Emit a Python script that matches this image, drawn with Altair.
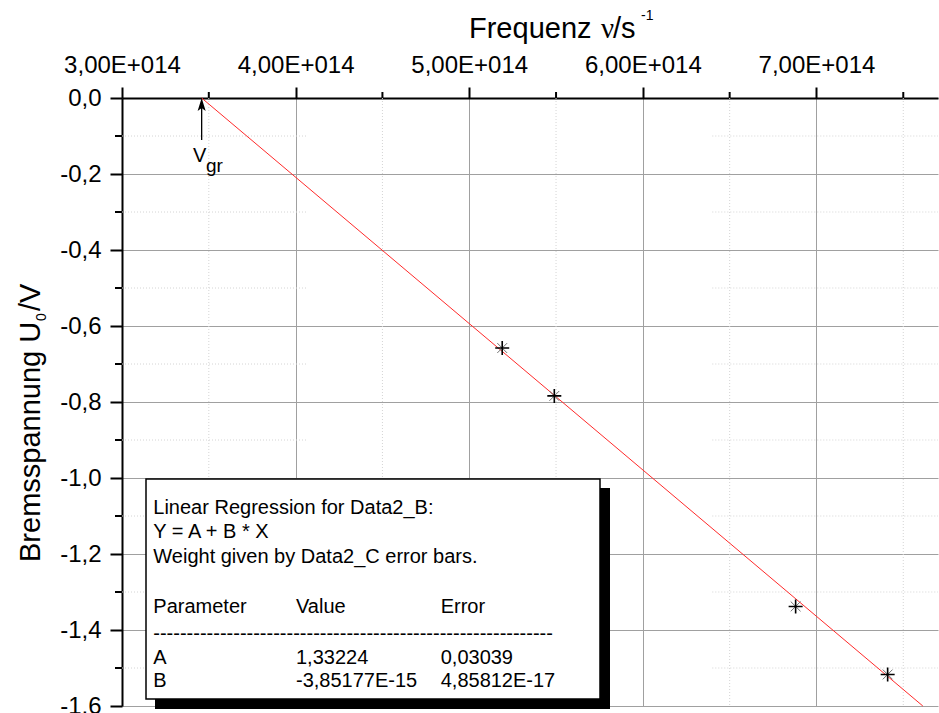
import altair as alt
import pandas as pd

# ---------------- data ----------------
freq = [5.19e14, 5.49e14, 6.88e14, 7.41e14]          # Frequenz nu / s^-1
volt = [-0.658, -0.784, -1.338, -1.517]              # Bremsspannung U0 / V
fit_x = [3.4588e14, 7.6127e14]                       # regression line end points
fit_y = [0.0, -1.6]
x_major = [3e14, 4e14, 5e14, 6e14, 7e14]
x_minor = [3.5e14, 4.5e14, 5.5e14, 6.5e14, 7.5e14]
y_major = [0.0, -0.2, -0.4, -0.6, -0.8, -1.0, -1.2, -1.4, -1.6]
y_minor = [-0.1, -0.3, -0.5, -0.7, -0.9, -1.1, -1.3, -1.5]
hgrid_from = [3.0e14, 6.40e14]
hgrid_to = [4.07e14, 7.7e14]
x_domain = [3e14, 7.7e14]
y_domain = [-1.6, 0.0]
reg_rows = [["Parameter", "Value", "Error"], ["A", "1,33224", "0,03039"], ["B", "-3,85177E-15", "4,85812E-17"]]

W, H = 816, 608
FONT = "Liberation Sans"

xscale = alt.Scale(domain=x_domain, nice=False, zero=False)
yscale = alt.Scale(domain=y_domain, nice=False, zero=False)
xaxis = alt.Axis(orient="top", values=x_major, tickSize=11, tickWidth=2, tickColor="black",
                 domainColor="black", domainWidth=2, labelFont=FONT, labelFontSize=24,
                 labelColor="black", labelPadding=15, labelBaseline="alphabetic",
                 labelExpr="replace(format(datum.value/1e14, '.2f'), '.', ',') + 'E+014'",
                 title=None, grid=True, gridColor="#a0a0a0", gridWidth=1,
                 labelFlush=False, labelOverlap=False, labelBound=False)
yaxis = alt.Axis(orient="left", values=y_major, tickSize=12, tickWidth=2, tickColor="black",
                 domainColor="black", domainWidth=2, labelFont=FONT, labelFontSize=24,
                 labelColor="black", labelPadding=9, labelAlign="right", labelBaseline="middle",
                 labelExpr="(datum.value < -0.001 ? '-' : '') + replace(format(abs(datum.value), '.1f'), '.', ',')",
                 title=None, grid=True, gridColor="#a0a0a0", gridWidth=1,
                 labelFlush=False, labelOverlap=False, labelBound=False)


def X(f="x"):
    return alt.X(f, type="quantitative", scale=xscale, axis=xaxis)


def Y(f="y"):
    return alt.Y(f, type="quantitative", scale=yscale, axis=yaxis)


one = pd.DataFrame({"k": [0]})

pts = pd.DataFrame({"x": freq, "y": volt})
fit = pd.DataFrame({"x": fit_x, "y": fit_y})
xmin_df = pd.DataFrame({"x": x_minor})
ymin_df = pd.DataFrame({"y": y_minor})
hseg = pd.DataFrame([{"y": yv, "x": a, "x2": b} for yv in y_minor for a, b in zip(hgrid_from, hgrid_to)])

# minor grid (dotted)
vgrid_minor = alt.Chart(xmin_df).mark_rule(color="#d4d4d4", strokeWidth=1, strokeDash=[1, 2]).encode(x=X())
hgrid_minor = alt.Chart(hseg).mark_rule(color="#d4d4d4", strokeWidth=1, strokeDash=[1, 2]).encode(
    x=X(), x2="x2", y=Y())

# minor ticks
xticks_minor = alt.Chart(xmin_df).mark_rule(color="black", strokeWidth=2).encode(
    x=X(), y=alt.value(-6), y2=alt.value(0))
yticks_minor = alt.Chart(ymin_df).mark_rule(color="black", strokeWidth=2).encode(
    y=Y(), x=alt.value(-7), x2=alt.value(0))

# regression line
line = alt.Chart(fit).mark_line(color="#ff2a2a", strokeWidth=1).encode(x=X(), y=Y())

# data points (asterisk)
star_plus = alt.Chart(pts).mark_point(shape="M-1,0L1,0M0,-1L0,1", size=196, filled=False,
                                      color="black", strokeWidth=1.6, opacity=1).encode(x=X(), y=Y())
star_x = alt.Chart(pts).mark_point(shape="M-0.7,-0.7L0.7,0.7M-0.7,0.7L0.7,-0.7", size=196, filled=False,
                                   color="#707070", strokeWidth=1, opacity=1).encode(x=X(), y=Y())

# threshold arrow
nu0 = pd.DataFrame({"x": [fit_x[0]]})
arrow_line = alt.Chart(nu0).mark_rule(color="black", strokeWidth=1.3).encode(
    x=X(), y=alt.value(42), y2=alt.value(6))
arrow_head = alt.Chart(nu0).mark_point(shape="M0,-1L0.62,1L0,0.55L-0.62,1Z", size=169, filled=True,
                                       color="black", opacity=1).encode(x=X(), y=alt.value(6.5))


def label(text, x, y, size, font=FONT, align="left", angle=0, baseline="alphabetic"):
    return alt.Chart(one).mark_text(text=text, font=font, fontSize=size, align=align, angle=angle,
                                    baseline=baseline, color="black").encode(
        x=alt.value(x), y=alt.value(y))


# regression box
shadow = alt.Chart(one).mark_rect(fill="black").encode(
    x=alt.value(33), x2=alt.value(488), y=alt.value(390), y2=alt.value(611))
box = alt.Chart(one).mark_rect(fill="white", stroke="black", strokeWidth=1.5).encode(
    x=alt.value(24), x2=alt.value(478), y=alt.value(381), y2=alt.value(601))

TS = 20
bx, c2, c3 = 31.3, 174, 318.7
box_text = [
    label("Linear Regression for Data2_B:", bx, 416.3, TS),
    label("Y = A + B * X", bx, 440.3, TS),
    label("Weight given by Data2_C error bars.", bx, 465.3, TS),
    label(reg_rows[0][0], bx, 515.3, TS), label(reg_rows[0][1], c2, 515.3, TS), label(reg_rows[0][2], c3, 515.3, TS),
    label("-" * 60, bx, 542.3, TS),
    label(reg_rows[1][0], bx, 566.3, TS), label(reg_rows[1][1], c2, 566.3, TS), label(reg_rows[1][2], c3, 566.3, TS),
    label(reg_rows[2][0], bx, 589.3, TS), label(reg_rows[2][1], c2, 589.3, TS), label(reg_rows[2][2], c3, 589.3, TS),
]

# axis titles
titles = [
    label("Frequenz", 347, -60, 29),
    label("ν", 479, -60, 29, font="Liberation Serif"),
    label("/s", 491, -60, 29),
    label("-1", 519, -78, 14),
    label("Bremsspannung U", -82, 464, 29, angle=270),
    label("0", -76, 223, 14, angle=270),
    label("/V", -82, 213, 29, angle=270),
    label("V", 71, 64, 20),
    label("gr", 84, 74, 19),
]

chart = alt.layer(
    vgrid_minor, hgrid_minor, xticks_minor, yticks_minor,
    line, star_x, star_plus, arrow_line, arrow_head,
    shadow, box, *box_text, *titles,
).properties(
    width=W, height=H,
    autosize=alt.AutoSizeParams(type="none"),
    padding={"left": 122, "top": 98, "right": 1, "bottom": 7},
    background="white",
).configure_view(stroke=None)

chart.save("out.html", embed_options={"renderer": "svg", "actions": False})
